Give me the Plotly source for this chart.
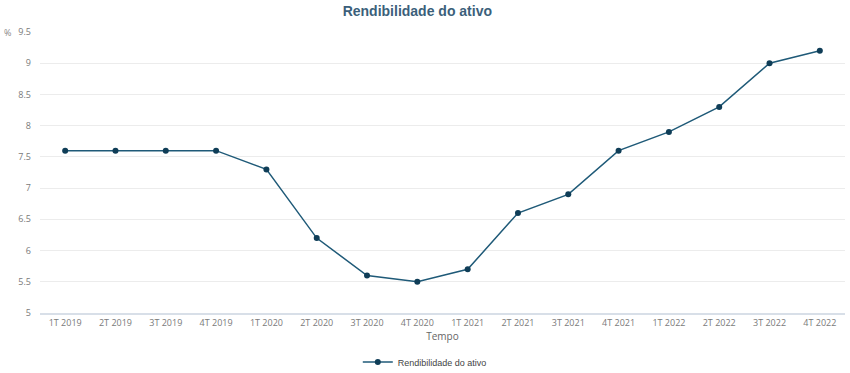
import plotly.graph_objects as go

categories = ["1T 2019", "2T 2019", "3T 2019", "4T 2019", "1T 2020", "2T 2020", "3T 2020", "4T 2020",
              "1T 2021", "2T 2021", "3T 2021", "4T 2021", "1T 2022", "2T 2022", "3T 2022", "4T 2022"]
values = [7.6, 7.6, 7.6, 7.6, 7.3, 6.2, 5.6, 5.5, 5.7, 6.6, 6.9, 7.6, 7.9, 8.3, 9.0, 9.2]
y_ticks = [5, 5.5, 6, 6.5, 7, 7.5, 8, 8.5, 9, 9.5]
y_tick_text = ["5", "5.5", "6", "6.5", "7", "7.5", "8", "8.5", "9", "9.5"]

fig = go.Figure()
fig.add_trace(go.Scatter(
    x=categories, y=values, mode="lines+markers",
    name="Rendibilidade do ativo",
    line=dict(color="#1f5a78", width=1.5),
    marker=dict(color="#0f3d57", size=6),
))

fig.update_layout(
    width=850, height=373,
    margin=dict(l=40, r=5, t=32, b=60, autoexpand=False),
    paper_bgcolor="white", plot_bgcolor="white",
    title=dict(text="<b>Rendibilidade do ativo</b>", x=0.491, xanchor="center",
               yref="container", y=1 - 11 / 373, yanchor="middle",
               font=dict(family="Liberation Sans, Arial", size=14, color="#3b5f7a")),
    font=dict(family="Open Sans, Noto Sans", size=9, color="#7a7a7a"),
    showlegend=True,
    legend=dict(orientation="h", x=0.478, xanchor="center", yref="container", y=1 - 362 / 373,
                yanchor="middle", itemwidth=30,
                font=dict(family="Liberation Sans, Arial", size=9, color="#444444")),
    xaxis=dict(type="category", range=[-0.5, len(categories) - 0.5], showgrid=False,
               showline=True, linecolor="#d8dfe8", linewidth=2,
               ticks="", tickfont=dict(size=9, color="#7a7a7a"), automargin=False,
               title=dict(text="Tempo", font=dict(size=10, color="#666666"), standoff=4)),
    yaxis=dict(range=[5, 9.5], tickvals=y_ticks, ticktext=y_tick_text, showgrid=True,
               gridcolor="#ececec", gridwidth=1, zeroline=False, ticks="", automargin=False,
               tickfont=dict(size=9, color="#7a7a7a"), ticklabelstandoff=8),
    annotations=[dict(text="%", xref="paper", yref="paper", x=-0.047, y=1.0, xanchor="left",
                      yanchor="middle", showarrow=False, font=dict(size=9, color="#888888"))],
)

fig.write_html("out.html", config={"displayModeBar": False},
               post_script="document.body.style.margin='0px';")
